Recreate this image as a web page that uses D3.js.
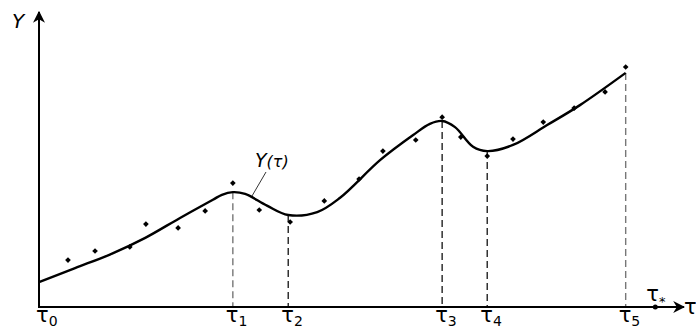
<!DOCTYPE html>
<html>
<head>
<meta charset="utf-8">
<script src="https://cdn.jsdelivr.net/npm/d3@7"></script>
<style>
  body { margin: 0; background: #fff; }
  text { font-family: "DejaVu Sans", sans-serif; fill: #000; }
</style>
</head>
<body>
<div id="chart"></div>
<script>
// observed points (tau, Y)
var point_tau = [0.45, 0.87, 1.41, 1.66, 2.16, 2.58, 3.01, 3.42, 3.90, 4.43, 4.97,
                 5.34, 5.85, 6.26, 6.55, 6.96, 7.36, 7.83, 8.31, 8.79, 9.11];
var point_y   = [1.60, 1.91, 2.05, 2.83, 2.70, 3.28, 4.23, 3.31, 2.90, 3.62, 4.37,
                 5.32, 5.70, 6.48, 5.80, 5.15, 5.73, 6.31, 6.79, 7.34, 8.19];

// smooth curve Y(tau)
var curve_tau = [0, 0.56, 1.10, 1.65, 2.19, 2.70, 2.84, 3.01, 3.20, 3.54, 3.87, 4.32, 4.67,
                 5.30, 5.81, 6.07, 6.26, 6.46, 6.74, 6.96, 7.36, 7.89, 8.40, 9.11];
var curve_y   = [0.85, 1.33, 1.79, 2.36, 3.04, 3.66, 3.83, 3.92, 3.86, 3.46, 3.14, 3.24, 3.72,
                 5.02, 5.87, 6.25, 6.35, 6.14, 5.47, 5.32, 5.53, 6.21, 6.89, 7.99];

// marked moments on the tau axis
var tick_tau   = [0, 3.01, 3.87, 6.26, 6.96, 9.11];
var tick_label = ['0', '1', '2', '3', '4', '5'];
var tau_star = 9.57;

const width = 696, height = 331;
const x0 = 39, x1 = 683, y0 = 307, y1 = 14;

var svg = d3.select('#chart').append('svg')
  .attr('width', width)
  .attr('height', height);

var x = d3.scaleLinear().domain([0, 10]).range([x0, x1]);
var y = d3.scaleLinear().domain([0, 10]).range([y0, y1]);

// arrow head
svg.append('defs').append('marker')
  .attr('id', 'arrow')
  .attr('viewBox', '0 0 10 10')
  .attr('refX', 9).attr('refY', 5)
  .attr('markerWidth', 6).attr('markerHeight', 6)
  .attr('markerUnits', 'strokeWidth')
  .attr('orient', 'auto')
  .append('path')
  .attr('d', 'M0,0 L10,5 L0,10 L3,5 Z')
  .attr('fill', '#000');

// dashed drop lines from curve to axis
tick_tau.slice(1).forEach(function(t, i){
  var k = curve_tau.indexOf(t);
  svg.append('line')
    .attr('x1', x(t)).attr('x2', x(t))
    .attr('y1', y(curve_y[k])).attr('y2', y0)
    .attr('stroke', (i == 0 || i == 4) ? '#777' : '#222')
    .attr('stroke-width', 1.4)
    .attr('stroke-dasharray', '7,4');
});

// axes
svg.append('line')
  .attr('x1', x0).attr('y1', y0).attr('x2', x0).attr('y2', y1 - 2)
  .attr('stroke', '#000').attr('stroke-width', 2)
  .attr('marker-end', 'url(#arrow)');
svg.append('line')
  .attr('x1', x0 - 1).attr('y1', y0).attr('x2', x1 + 1).attr('y2', y0)
  .attr('stroke', '#000').attr('stroke-width', 2)
  .attr('marker-end', 'url(#arrow)');

// curve
var line = d3.line()
  .x(function(d, i){ return x(curve_tau[i]); })
  .y(function(d){ return y(d); })
  .curve(d3.curveCatmullRom.alpha(0.5));
svg.append('path')
  .attr('d', line(curve_y))
  .attr('fill', 'none')
  .attr('stroke', '#000')
  .attr('stroke-width', 2.4);

// points
var diamond = d3.symbol().type(d3.symbolSquare).size(16);
svg.selectAll('.pt').data(point_y).enter().append('path')
  .attr('class', 'pt')
  .attr('d', diamond)
  .attr('transform', function(d, i){ return `translate(${x(point_tau[i])},${y(d)}) rotate(45)`; })
  .attr('fill', '#000');

// tau* point
svg.append('circle')
  .attr('cx', x(tau_star)).attr('cy', y0)
  .attr('r', 2.5).attr('fill', '#000');

// tick labels
tick_tau.forEach(function(t, i){
  var tx = svg.append('text')
    .attr('x', i == 0 ? x0 - 3 : x(t) - 7)
    .attr('y', 322)
    .attr('font-size', 21);
  tx.append('tspan').text('τ');
  tx.append('tspan').attr('font-size', 14).attr('dy', 4).text(tick_label[i]);
});

var ts = svg.append('text')
  .attr('x', x(tau_star) - 9).attr('y', 301)
  .attr('font-size', 21);
ts.append('tspan').text('τ');
ts.append('tspan').attr('font-size', 13).attr('dy', 5).text('*');

// axis names
svg.append('text')
  .attr('x', 684).attr('y', 314)
  .attr('font-size', 21)
  .text('τ');
svg.append('text')
  .attr('x', 12).attr('y', 28)
  .attr('font-size', 20)
  .attr('font-style', 'italic')
  .text('Y');

// curve label and leader
svg.append('line')
  .attr('x1', 252).attr('y1', 196).attr('x2', 266).attr('y2', 172)
  .attr('stroke', '#000').attr('stroke-width', 0.8);
var yl = svg.append('text')
  .attr('x', 255).attr('y', 167)
  .attr('font-style', 'italic')
  .attr('font-size', 19);
yl.append('tspan').text('Y');
yl.append('tspan').attr('font-size', 16).text('(τ)');
</script>
</body>
</html>
